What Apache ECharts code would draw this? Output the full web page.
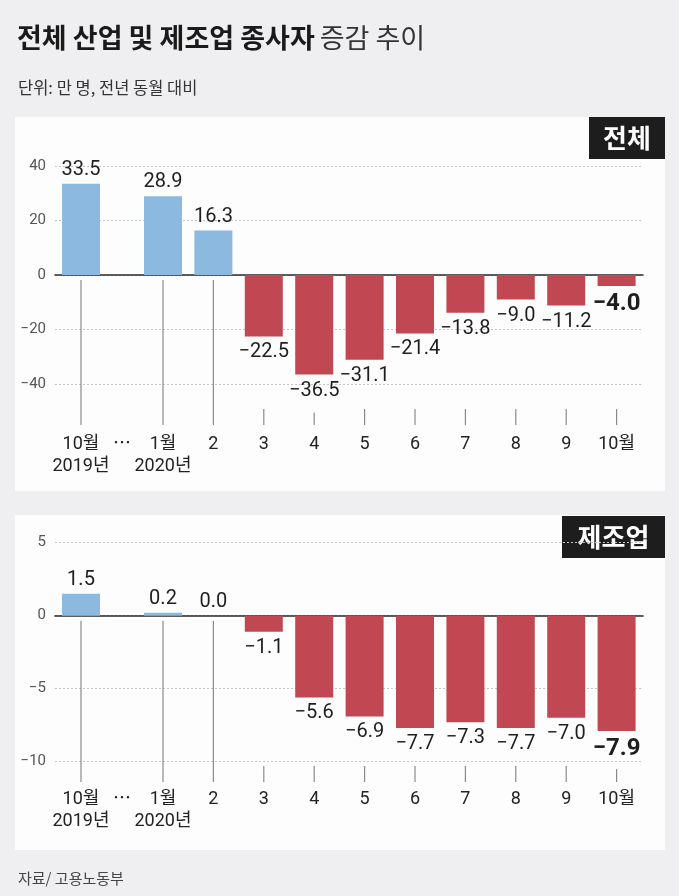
<!DOCTYPE html>
<html>
<head>
<meta charset="utf-8">
<script src="https://cdn.jsdelivr.net/npm/echarts@6/dist/echarts.min.js"></script>
<style>
  html, body { margin: 0; padding: 0; background: #efeff1; }
  #chart { width: 679px; height: 896px; }
</style>
</head>
<body>
<div id="chart"></div>
<script>
// 카테고리: 2019년 10월, (생략), 2020년 1~10월
const catsFirst = ['10월\n2019년', '⋯'];
const catsYear = ['1월\n2020년', '2', '3', '4', '5', '6', '7', '8', '9', '10월'];

// 전체 산업 (만 명)
const totalFirst = [33.5];
const totalYear = [28.9, 16.3, -22.5, -36.5, -31.1, -21.4, -13.8, -9.0, -11.2, -4.0];
const totalTicks = { min: -40, max: 40, interval: 20 };

// 제조업 (만 명)
const mfgFirst = [1.5];
const mfgYear = [0.2, 0.0, -1.1, -5.6, -6.9, -7.7, -7.3, -7.7, -7.0, -7.9];
const mfgTicks = { min: -10, max: 5, interval: 5 };

const BLUE = '#8bb9e0';
const RED = '#c14852';
const NUM_FONT = 'Roboto, "Noto Sans CJK KR", sans-serif';
const KR_FONT = '"Noto Sans CJK KR", sans-serif';

var myChart = echarts.init(document.getElementById('chart'));

// 막대 + 값 라벨
function bars(vals, xi, yi, boldLast) {
    return {
        type: 'bar',
        xAxisIndex: xi,
        yAxisIndex: yi,
        barWidth: 38,
        z: 3,
        data: vals.map(function (v, i) {
            let big = boldLast && i === vals.length - 1;
            return {
                value: v,
                itemStyle: { color: v >= 0 ? BLUE : RED },
                label: {
                    show: true,
                    position: v >= 0 ? 'top' : 'bottom',
                    distance: v >= 0 ? 4 : 6,
                    formatter: function (p) { return p.value.toFixed(1).replace('-', '−'); },
                    fontFamily: NUM_FONT,
                    fontSize: big ? 24 : 20,
                    fontWeight: big ? 'bold' : 'normal',
                    color: '#1e1e1e'
                }
            };
        })
    };
}

// 막대 아래 지시선
function leaders(vals, xi, yi, yMin) {
    return {
        type: 'custom',
        xAxisIndex: xi,
        yAxisIndex: yi,
        silent: true,
        z: 2,
        data: vals.map(function (v, i) { return [i, v]; }),
        renderItem: function (params, api) {
            let c = api.value(0), v = api.value(1);
            let end = api.coord([c, yMin])[1];
            let x = api.coord([c, 0])[0];
            let start;
            if (v < 0) {
                start = Math.max(api.coord([c, v])[1] + 38, end - 16);
            } else {
                start = api.coord([c, 0])[1] + 5;
            }
            return {
                type: 'line',
                shape: { x1: x, y1: start, x2: x, y2: end },
                style: { stroke: '#8a8a8a', lineWidth: 1.2 }
            };
        }
    };
}

function bgY(t) {
    return {
        type: 'value', min: t.min, max: t.max, interval: t.interval,
        axisLine: { show: false }, axisTick: { show: false },
        axisLabel: {
            color: '#555', fontSize: 15, fontFamily: NUM_FONT, margin: 9,
            formatter: function (v) { return String(v).replace('-', '−'); }
        },
        splitLine: { show: true, lineStyle: { color: '#c4c4c4', type: [2, 2], width: 1 } }
    };
}
function bgX() {
    return {
        type: 'value', min: 0, max: 1,
        axisLine: { show: true, onZero: true, lineStyle: { color: '#2a2a2a', width: 1.6 } },
        axisTick: { show: false }, axisLabel: { show: false }, splitLine: { show: false }
    };
}
function catX(data, margin) {
    return {
        type: 'category', data: data,
        axisLine: { show: false }, axisTick: { show: false },
        axisLabel: {
            interval: 0, color: '#222', fontSize: 18, lineHeight: 22,
            fontFamily: NUM_FONT, margin: margin
        }
    };
}
function hiddenY(min, max) {
    return { type: 'value', min: min, max: max, show: false, splitLine: { show: false } };
}

let topMin = -55, botMin = -11.4;

let option = {
    backgroundColor: '#efeff1',
    animation: false,
    title: [
        {
            text: '{b|전체 산업 및 제조업 종사자} {r|증감 추이}',
            left: 12, top: 19,
            textStyle: {
                rich: {
                    b: { fontFamily: KR_FONT, fontWeight: 'bold', fontSize: 27, color: '#1a1a1a' },
                    r: { fontFamily: KR_FONT, fontWeight: 'normal', fontSize: 27, color: '#333' }
                }
            }
        },
        {
            text: '단위: 만 명, 전년 동월 대비',
            left: 13, top: 74,
            textStyle: { fontFamily: KR_FONT, fontWeight: 'normal', fontSize: 16.5, color: '#333' }
        },
        {
            text: '자료/ 고용노동부',
            left: 13, top: 866,
            textStyle: { fontFamily: KR_FONT, fontWeight: 'normal', fontSize: 15, color: '#444' }
        }
    ],
    graphic: [
        { type: 'rect', z: -10, shape: { x: 15, y: 117, width: 650, height: 374 }, style: { fill: '#fdfdfd' } },
        { type: 'rect', z: -10, shape: { x: 15, y: 515, width: 650, height: 335 }, style: { fill: '#fdfdfd' } },
        {
            type: 'group', z: 100, children: [
                { type: 'rect', shape: { x: 589, y: 117, width: 76, height: 42 }, style: { fill: '#1d1d1d' } },
                { type: 'text', x: 627, y: 138, style: { text: '전체', fill: '#fff', font: 'bold 26px "Noto Sans CJK KR"', align: 'center', verticalAlign: 'middle' } }
            ]
        },
        {
            type: 'group', z: 100, children: [
                { type: 'rect', shape: { x: 562, y: 516, width: 103, height: 42 }, style: { fill: '#1d1d1d' } },
                { type: 'text', x: 613.5, y: 537, style: { text: '제조업', fill: '#fff', font: 'bold 26px "Noto Sans CJK KR"', align: 'center', verticalAlign: 'middle' } }
            ]
        }
    ],
    grid: [
        { left: 55, top: 166, width: 588, height: 218 },
        { left: 60.5, top: 166, width: 82, height: 259 },
        { left: 137.8, top: 166, width: 504, height: 259 },
        { left: 55, top: 542.7, width: 588, height: 219 },
        { left: 60.5, top: 542.7, width: 82, height: 239.4 },
        { left: 137.8, top: 542.7, width: 504, height: 239.4 }
    ],
    xAxis: [
        Object.assign(bgX(), { gridIndex: 0 }),
        Object.assign(catX(catsFirst, 8), { gridIndex: 1 }),
        Object.assign(catX(catsYear, 8), { gridIndex: 2 }),
        Object.assign(bgX(), { gridIndex: 3 }),
        Object.assign(catX(catsFirst, 6), { gridIndex: 4 }),
        Object.assign(catX(catsYear, 6), { gridIndex: 5 })
    ],
    yAxis: [
        Object.assign(bgY(totalTicks), { gridIndex: 0 }),
        Object.assign(hiddenY(topMin, totalTicks.max), { gridIndex: 1 }),
        Object.assign(hiddenY(topMin, totalTicks.max), { gridIndex: 2 }),
        Object.assign(bgY(mfgTicks), { gridIndex: 3 }),
        Object.assign(hiddenY(botMin, mfgTicks.max), { gridIndex: 4 }),
        Object.assign(hiddenY(botMin, mfgTicks.max), { gridIndex: 5 })
    ],
    series: [
        bars(totalFirst, 1, 1, false),
        bars(totalYear, 2, 2, true),
        leaders(totalFirst, 1, 1, topMin),
        leaders(totalYear, 2, 2, topMin),
        bars(mfgFirst, 4, 4, false),
        bars(mfgYear, 5, 5, true),
        leaders(mfgFirst, 4, 4, botMin),
        leaders(mfgYear, 5, 5, botMin)
    ]
};

myChart.setOption(option);
</script>
</body>
</html>
